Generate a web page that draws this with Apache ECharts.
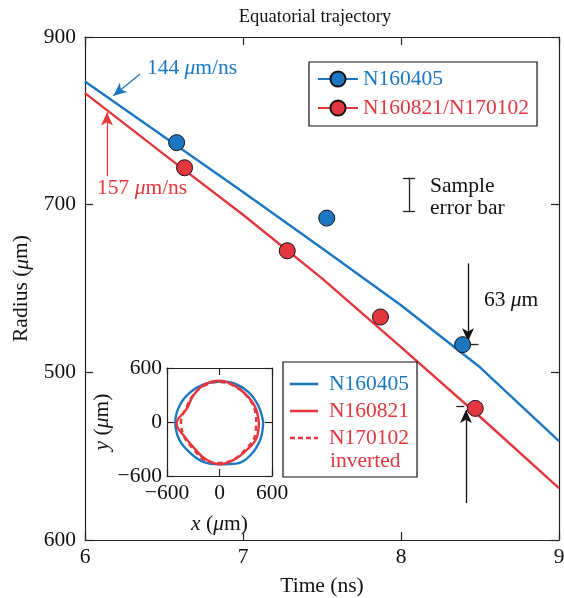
<!DOCTYPE html>
<html>
<head>
<meta charset="utf-8">
<script src="https://cdn.jsdelivr.net/npm/echarts@6/dist/echarts.min.js"></script>
<style>
  html, body { margin: 0; padding: 0; background: #fff; }
  #main { width: 564px; height: 598px; }
</style>
</head>
<body>
<div id="main"></div>
<script>
const FONT = 'Liberation Serif';
const BLUE = '#1c77c3';
const RED = '#e3363e';

// main axes
const timeTicks = [6, 7, 8, 9];
const radiusTicks = [300, 500, 700, 900];
const radiusTickLabels = ['600', '500', '700', '900'];

// measured points
const n160405Time = [6.58, 7.53, 8.39];
const n160405Radius = [774, 684, 533];
const n160821Time = [6.63, 7.28, 7.87, 8.47];
const n160821Radius = [744, 645, 566, 457];

// trajectory curves
const fitTime = [6, 6.5, 7, 7.5, 8, 8.5, 9];
const fitBlue = [847, 781, 715, 648, 580, 506, 418];
const fitRed = [833, 760, 688, 612, 530, 447, 362];

// inset: equatorial contours (x, y in um)
const insetTicks = [-600, 0, 600];
const contourN160405 = [[500, 0], [443, 184], [332, 332], [176, 425], [0, 450], [-174, 420], [-332, 332], [-453, 188],
  [-505, 0], [-462, -191], [-339, -339], [-184, -443], [0, -470], [191, -462], [361, -361], [467, -193], [500, 0]];
const contourN160821 = [[450, 0], [407, 168], [304, 304], [168, 407], [0, 460], [-172, 416], [-297, 297], [-370, 153],
  [-490, -20], [-397, -165], [-290, -290], [-168, -407], [0, -470], [172, -416], [311, -311], [425, -176], [450, 0]];
const contourN170102 = [[420, 0], [395, 160], [300, 300], [165, 400], [0, 445], [-170, 405], [-300, 300], [-380, 160],
  [-440, 0], [-400, -170], [-300, -300], [-175, -420], [0, -455], [170, -410], [300, -300], [400, -170], [420, 0]];

const zip = (a, b) => a.map((v, i) => [v, b[i]]);
const minus = v => String(v).replace('-', '\u2212');

const chart = echarts.init(document.getElementById('main'));

const FS = 21.5;
const axisLineStyle = { color: '#222', width: 1.2 };
const labelStyle = { fontFamily: FONT, fontSize: FS, color: '#111' };
const italicRich = { i: Object.assign({ fontStyle: 'italic' }, labelStyle) };
const mainX = { type: 'value', min: 6, max: 9, interval: 1, gridIndex: 0, splitLine: { show: false },
  axisLine: { onZero: false, lineStyle: axisLineStyle }, axisTick: { inside: true, length: 8, lineStyle: axisLineStyle } };
const mainY = { type: 'value', min: 300, max: 900, interval: 200, gridIndex: 0, splitLine: { show: false },
  axisLine: { onZero: false, lineStyle: axisLineStyle }, axisTick: { inside: true, length: 8, lineStyle: axisLineStyle } };
const insX = { type: 'value', min: insetTicks[0], max: insetTicks[2], interval: 600, gridIndex: 1, splitLine: { show: false },
  axisLine: { onZero: false, lineStyle: axisLineStyle }, axisTick: { inside: true, length: 7, lineStyle: axisLineStyle } };
const insY = Object.assign({}, insX);

const arrow = (p1, p2, color) => [
  { coord: p1, lineStyle: { color: color, width: 1.3, type: 'solid' }, itemStyle: { color: color } },
  { coord: p2 }
];
const seg = (p1, p2) => [
  { coord: p1, symbol: 'none', lineStyle: { color: '#222', width: 1.3, type: 'solid' } },
  { coord: p2, symbol: 'none' }
];

const solidIcon = 'path://M0,0H28V2.6H0Z';
const dashIcon = 'path://M0,0h5v2.6h-5z M8,0h5v2.6h-5z M16,0h5v2.6h-5z M24,0h4v2.6h-4z';

chart.setOption({
  animation: false,
  title: {
    text: 'Equatorial trajectory', left: 310, top: 3, textAlign: 'center',
    textStyle: { fontFamily: FONT, fontSize: 18.5, fontWeight: 'normal', color: '#111' }
  },
  grid: [
    { left: 85, top: 37, width: 474, height: 503, outerBoundsMode: 'none' },
    { left: 167, top: 368, width: 105, height: 108, outerBoundsMode: 'none' }
  ],
  xAxis: [
    Object.assign({}, mainX, { position: 'bottom', name: 'Time (ns)', nameLocation: 'middle', nameGap: 35,
      nameTextStyle: labelStyle, axisLabel: Object.assign({ margin: 6 }, labelStyle) }),
    Object.assign({}, mainX, { position: 'top', axisLabel: { show: false } }),
    Object.assign({}, insX, { position: 'bottom', name: '{i|x} ({i|\u03bc}m)', nameLocation: 'middle', nameGap: 37,
      nameTextStyle: Object.assign({ rich: italicRich }, labelStyle),
      axisLabel: Object.assign({ margin: 6, formatter: minus }, labelStyle) }),
    Object.assign({}, insX, { position: 'top', axisLabel: { show: false } })
  ],
  yAxis: [
    Object.assign({}, mainY, { position: 'left', name: 'Radius ({i|\u03bc}m)', nameLocation: 'middle', nameGap: 52,
      nameTextStyle: Object.assign({ rich: italicRich }, labelStyle),
      axisLabel: Object.assign({ margin: 9, formatter: v => radiusTickLabels[radiusTicks.indexOf(v)] }, labelStyle) }),
    Object.assign({}, mainY, { position: 'right', axisLabel: { show: false } }),
    Object.assign({}, insY, { gridIndex: 1, position: 'left', name: '{i|y} ({i|\u03bc}m)', nameLocation: 'middle', nameGap: 54,
      nameTextStyle: Object.assign({ rich: italicRich }, labelStyle),
      axisLabel: Object.assign({ margin: 5, formatter: minus }, labelStyle) }),
    Object.assign({}, insY, { gridIndex: 1, position: 'right', axisLabel: { show: false } })
  ],
  legend: [
    {
      left: 309, top: 62, orient: 'vertical', itemWidth: 40, itemHeight: 19, itemGap: 7,
      padding: [6, 8, 7, 8], borderColor: '#111', borderWidth: 1.2,
      textStyle: { fontFamily: FONT, fontSize: FS },
      data: [
        { name: 'N160405', textStyle: { color: BLUE } },
        { name: 'N160821/N170102', textStyle: { color: RED } }
      ]
    },
    {
      left: 283, top: 362, orient: 'vertical', itemWidth: 28, itemHeight: 2.6, itemGap: 5,
      padding: [11, 8, 28, 7], borderColor: '#111', borderWidth: 1.2,
      textStyle: { fontFamily: FONT, fontSize: FS, padding: [0, 0, 0, 6] },
      formatter: n => n.slice(1),
      data: [
        { name: 'iN160405', icon: solidIcon, textStyle: { color: BLUE } },
        { name: 'iN160821', icon: solidIcon, textStyle: { color: RED } },
        { name: 'iN170102', icon: dashIcon, textStyle: { color: RED } }
      ]
    }
  ],
  series: [
    {
      name: 'N160405', type: 'line', xAxisIndex: 0, yAxisIndex: 0, data: zip(fitTime, fitBlue),
      symbol: 'circle', symbolSize: 16, showSymbol: false, z: 2,
      lineStyle: { color: BLUE, width: 2.4 }, itemStyle: { color: BLUE, borderColor: '#111', borderWidth: 1 },
      markLine: {
        silent: true, symbol: ['none', 'arrow'], symbolSize: [9, 13], label: { show: false },
        data: [
          arrow([6.348, 856], [6.18, 830], BLUE),
          arrow([8.424, 630], [8.424, 537], '#111'),
          arrow([8.411, 344], [8.411, 455], '#111'),
          seg([8.05, 732], [8.05, 692.5]),
          seg([8.012, 732], [8.088, 732]),
          seg([8.012, 692.5], [8.088, 692.5]),
          seg([8.44, 533], [8.49, 533]),
          seg([8.35, 459], [8.40, 459])
        ]
      }
    },
    {
      name: 'N160821/N170102', type: 'line', xAxisIndex: 0, yAxisIndex: 0, data: zip(fitTime, fitRed),
      symbol: 'circle', symbolSize: 16, showSymbol: false, z: 2,
      lineStyle: { color: RED, width: 2.4 }, itemStyle: { color: RED, borderColor: '#111', borderWidth: 1 },
      markLine: {
        silent: true, symbol: ['none', 'arrow'], symbolSize: [9, 13], label: { show: false },
        data: [arrow([6.139, 734], [6.139, 810], RED)]
      }
    },
    {
      name: 'pts160405', type: 'scatter', xAxisIndex: 0, yAxisIndex: 0, data: zip(n160405Time, n160405Radius),
      symbolSize: 16, z: 5, itemStyle: { color: BLUE, borderColor: '#111', borderWidth: 1, opacity: 1 }
    },
    {
      name: 'pts160821', type: 'scatter', xAxisIndex: 0, yAxisIndex: 0, data: zip(n160821Time, n160821Radius),
      symbolSize: 16, z: 5, itemStyle: { color: RED, borderColor: '#111', borderWidth: 1, opacity: 1 }
    },
    {
      name: 'iN160405', type: 'line', xAxisIndex: 2, yAxisIndex: 2, data: contourN160405,
      smooth: 0.4, symbol: 'none', lineStyle: { color: BLUE, width: 2.4 }, itemStyle: { color: BLUE }
    },
    {
      name: 'iN160821', type: 'line', xAxisIndex: 2, yAxisIndex: 2, data: contourN160821,
      smooth: 0.4, symbol: 'none', lineStyle: { color: RED, width: 2.4 }, itemStyle: { color: RED }
    },
    {
      name: 'iN170102', type: 'line', xAxisIndex: 2, yAxisIndex: 2, data: contourN170102,
      smooth: 0.4, symbol: 'none', lineStyle: { color: RED, width: 2.4, type: [5, 4] }, itemStyle: { color: RED }
    }
  ]
});

// text annotations placed in data coordinates
const px = p => chart.convertToPixel({ xAxisIndex: 0, yAxisIndex: 0 }, p);
const note = (p, text, color) => {
  const [x, y] = px(p);
  return {
    type: 'text', x: x, y: y, silent: true,
    style: {
      text: text, fill: color, font: FS + 'px "' + FONT + '"', textVerticalAlign: 'middle',
      rich: { i: { fontStyle: 'italic', fontFamily: FONT, fontSize: FS, fill: color } }
    }
  };
};
chart.setOption({
  graphic: [
    note([6.392, 863], '144 {i|\u03bc}m/ns', BLUE),
    note([6.076, 720], '157 {i|\u03bc}m/ns', RED),
    note([8.184, 722], 'Sample', '#111'),
    note([8.184, 696], 'error bar', '#111'),
    note([8.525, 586], '63 {i|\u03bc}m', '#111'),
    {
      type: 'text', x: 330, y: 461, silent: true,
      style: { text: 'inverted', fill: RED, font: FS + 'px "' + FONT + '"', textVerticalAlign: 'middle' }
    }
  ]
});
</script>
</body>
</html>
